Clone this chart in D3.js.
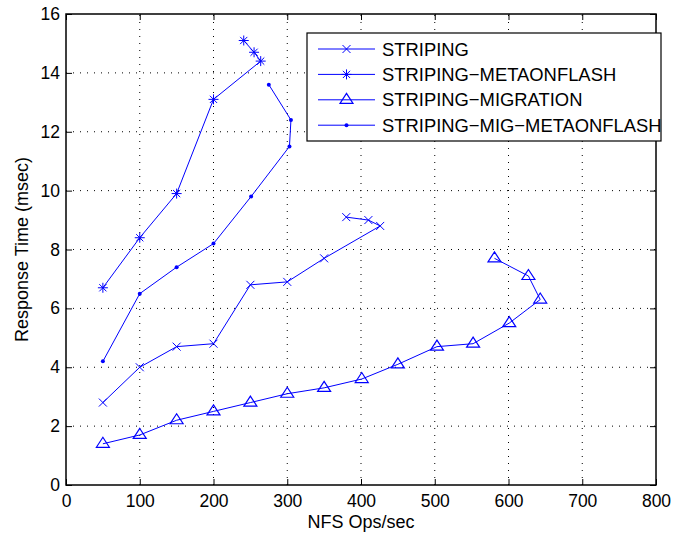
<!DOCTYPE html>
<html><head><meta charset="utf-8">
<script src="https://cdn.jsdelivr.net/npm/d3@7"></script>
<style>body{margin:0;background:#fff}svg{display:block}text{font-family:"Liberation Sans",Arial,sans-serif;fill:#000}</style>
</head><body>
<script>
const xTicks = [0,100,200,300,400,500,600,700,800];
const yTicks = [0,2,4,6,8,10,12,14,16];
const seriesNames = ["STRIPING","STRIPING\u2212METAONFLASH","STRIPING\u2212MIGRATION","STRIPING\u2212MIG\u2212METAONFLASH"];
const markers = ["x","star","triangle","dot"];
const stripingX = [50,100,150,200,250,300,350,426,410,380];
const stripingY = [2.8,4.0,4.7,4.8,6.8,6.9,7.7,8.8,9.0,9.1];
const metaX = [50,100,150,200,264,255,241];
const metaY = [6.7,8.4,9.9,13.1,14.4,14.7,15.1];
const migX = [50,100,150,200,250,300,350,401,450,503,552,601,643,627,581];
const migY = [1.4,1.7,2.2,2.5,2.8,3.1,3.3,3.6,4.1,4.7,4.8,5.5,6.3,7.1,7.7];
const migMetaX = [50,100,150,200,251,303,305,275];
const migMetaY = [4.2,6.5,7.4,8.2,9.8,11.5,12.4,13.6];
const seriesX = [stripingX, metaX, migX, migMetaX];
const seriesY = [stripingY, metaY, migY, migMetaY];

const W=675,H=536;
const L=66,R=656,T=14,B=485;
const svg=d3.select("body").append("svg").attr("width",W).attr("height",H);
const x=d3.scaleLinear().domain([0,800]).range([L,R]);
const y=d3.scaleLinear().domain([0,16]).range([B,T]);
const blue="#0000ff";

// grid
const g=svg.append("g");
g.selectAll(".gx").data(xTicks.slice(1,-1)).enter().append("line")
 .attr("x1",d=>x(d)).attr("x2",d=>x(d)).attr("y1",B).attr("y2",T)
 .attr("stroke","#000").attr("stroke-width",1).attr("stroke-dasharray","1,6");
g.selectAll(".gy").data(yTicks.slice(1,-1)).enter().append("line")
 .attr("y1",d=>y(d)).attr("y2",d=>y(d)).attr("x1",L).attr("x2",R)
 .attr("stroke","#000").attr("stroke-width",1).attr("stroke-dasharray","1,6");

// axes
const ax=svg.append("g").attr("transform",`translate(0,${B})`)
 .call(d3.axisBottom(x).tickValues(xTicks).tickSize(-6).tickPadding(10).tickFormat(d3.format("d")));
const ay=svg.append("g").attr("transform",`translate(${L},0)`)
 .call(d3.axisLeft(y).tickValues(yTicks).tickSize(-6).tickPadding(6).tickFormat(d3.format("d")));
const ax2=svg.append("g").attr("transform",`translate(0,${T})`)
 .call(d3.axisTop(x).tickValues(xTicks).tickSize(-6).tickFormat(""));
const ay2=svg.append("g").attr("transform",`translate(${R},0)`)
 .call(d3.axisRight(y).tickValues(yTicks).tickSize(-6).tickFormat(""));
[ax,ay,ax2,ay2].forEach(a=>{
  a.select(".domain").remove();
  a.selectAll("line").attr("stroke","#000").attr("stroke-width",1);
  a.selectAll("text").style("font-size","17.5px").attr("fill","#000");
});
svg.append("rect").attr("x",L).attr("y",T).attr("width",R-L).attr("height",B-T)
 .attr("fill","none").attr("stroke","#000").attr("stroke-width",1.5);

// labels
svg.append("text").attr("x",(L+R)/2).attr("y",528).attr("text-anchor","middle")
 .style("font-size","18px").text("NFS Ops/sec");
svg.append("text").attr("transform",`translate(28,${(T+B)/2}) rotate(-90)`).attr("text-anchor","middle")
 .style("font-size","18px").text("Response Time (msec)");

function drawMarker(sel,type,cx,cy){
  if(type==="x"){
    const s=4;
    sel.append("path").attr("d",`M${cx-s},${cy-s}L${cx+s},${cy+s}M${cx-s},${cy+s}L${cx+s},${cy-s}`)
     .attr("stroke",blue).attr("stroke-width",1).attr("fill","none");
  } else if(type==="star"){
    const s=5,d=3.6;
    sel.append("path").attr("d",`M${cx-s},${cy}L${cx+s},${cy}M${cx},${cy-s}L${cx},${cy+s}M${cx-d},${cy-d}L${cx+d},${cy+d}M${cx-d},${cy+d}L${cx+d},${cy-d}`)
     .attr("stroke",blue).attr("stroke-width",1).attr("fill","none");
  } else if(type==="triangle"){
    const w=6.5,h=10;
    sel.append("path").attr("d",`M${cx},${cy-h*0.65}L${cx+w},${cy+h*0.35}L${cx-w},${cy+h*0.35}Z`)
     .attr("stroke",blue).attr("stroke-width",1.2).attr("fill","none");
  } else {
    sel.append("circle").attr("cx",cx).attr("cy",cy).attr("r",2).attr("fill",blue);
  }
}

const line=d3.line().x(d=>x(d[0])).y(d=>y(d[1]));
seriesX.forEach((xs,i)=>{
  const pts=xs.map((v,j)=>[v,seriesY[i][j]]);
  const sg=svg.append("g");
  sg.append("path").attr("d",line(pts)).attr("fill","none").attr("stroke",blue).attr("stroke-width",1);
  pts.forEach(p=>drawMarker(sg,markers[i],x(p[0]),y(p[1])));
});

// legend
const lg=svg.append("g");
lg.append("rect").attr("x",307).attr("y",33).attr("width",354).attr("height",108)
 .attr("fill","#fff").attr("stroke","#000").attr("stroke-width",1.2);
seriesNames.forEach((n,i)=>{
  const yy=49+i*25.4;
  lg.append("line").attr("x1",318).attr("x2",375).attr("y1",yy).attr("y2",yy).attr("stroke",blue).attr("stroke-width",1);
  drawMarker(lg,markers[i],346.5,yy);
  lg.append("text").attr("x",382).attr("y",yy).attr("dy","0.36em").style("font-size","18.4px").text(n);
});
</script>
</body></html>
